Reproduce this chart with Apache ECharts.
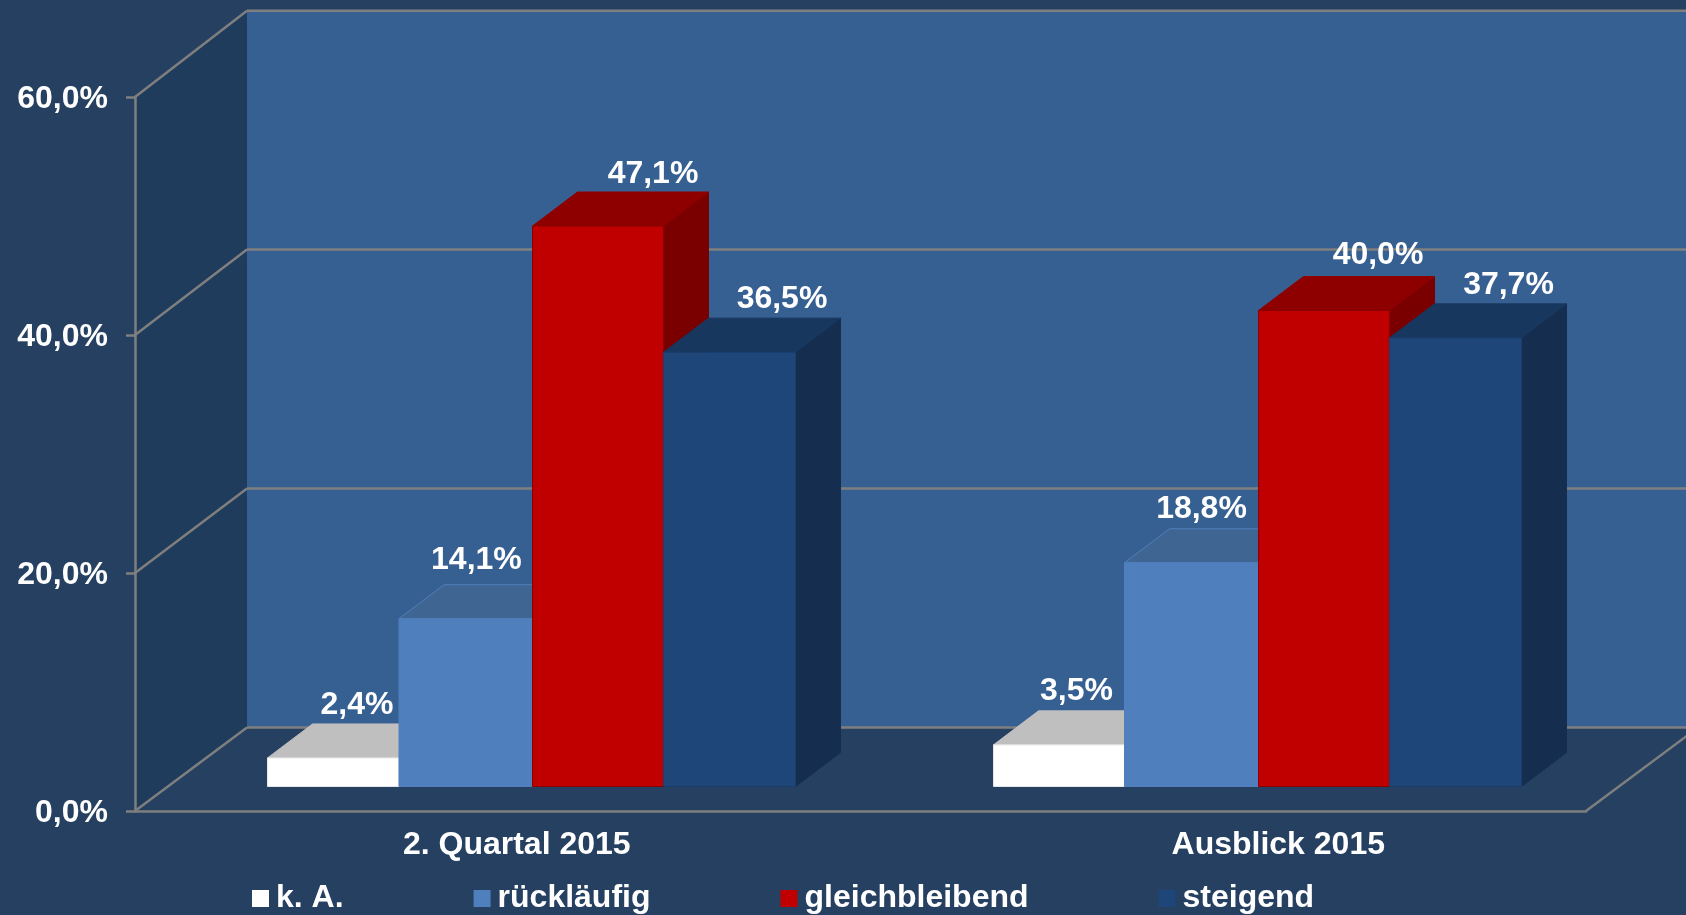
<!DOCTYPE html>
<html>
<head>
<meta charset="utf-8">
<style>html,body{margin:0;padding:0;background:#254061}#c{width:1686px;height:915px}</style>
<script src="https://cdn.jsdelivr.net/npm/echarts@6/dist/echarts.min.js"></script>
</head>
<body>
<div id="c"></div>
<script>
const categories = ['2. Quartal 2015', 'Ausblick 2015'];
const seriesNames = ['k. A.', 'rückläufig', 'gleichbleibend', 'steigend'];
const kaValues = [2.4, 3.5];
const ruecklaeufigValues = [14.1, 18.8];
const gleichbleibendValues = [47.1, 40.0];
const steigendValues = [36.5, 37.7];
const yTicks = [0, 20, 40, 60];

// layout and style (not data)
const FONT = 'bold 32px "Liberation Sans", Arial, sans-serif';
const WALL_DX = 112, WALL_DY = 83.5, WALL_SCALE = 1.004;
const BAR_DX = 45, BAR_DY = 34, BAR_W = 132;
const BAR_OFF_X = 33.25, BAR_OFF_Y = 24.5, GROUP_W = 4 * BAR_W;
const BAR_EDGES = [[0, 131.5, 265, 396, 528], [0.5, 131.5, 265.5, 396.5, 528.5]];
const GROUP_LEFT = -230.25;
const LINE = '#7f7f7f', LINE_W = 2.5;
const palette = [
  {front:'#ffffff', top:'#bfbfbf', side:'#bfbfbf', edge:'#e6e6e6'},
  {front:'#4f7fbc', top:'#3f6593', side:'#3a5f8c', edge:'#4f7fbc'},
  {front:'#c00000', top:'#8e0000', side:'#7a0000', edge:'#8a0000'},
  {front:'#1e4679', top:'#18375e', side:'#152e50', edge:'#1a3e6c'}
];
const labelShift = [[24, 18], [11.4, 11], [56, 55.5], [53, 54]];
const labelRise = [[52.5, 53.5], [58.5, 53.5], [51.5, 55], [52.5, 52.5]];
const categoryLabelPad = [38, 110];

const fmt = v => v.toFixed(1).replace('.', ',') + '%';

function poly(points, fill, stroke) {
  return {type:'polygon', shape:{points}, style:{fill, stroke: stroke || fill, lineWidth:1}};
}

function barRender(si) {
  return function (params, api) {
    const idx = api.value(0), val = api.value(1);
    const c = palette[si];
    const center = api.coord([idx, 0])[0];
    const base = api.coord([idx, 0])[1] - BAR_OFF_Y;
    const topY = base - (api.coord([idx, 0])[1] - api.coord([idx, val])[1]);
    const x0 = center + GROUP_LEFT + BAR_EDGES[idx][si];
    const x1 = center + GROUP_LEFT + BAR_EDGES[idx][si + 1];
    const labelX = center + BAR_OFF_X - GROUP_W / 2 + si * BAR_W + BAR_W / 2 + labelShift[si][idx];
    return {type:'group', children:[
      poly([[x1, base],[x1 + BAR_DX, base - BAR_DY],[x1 + BAR_DX, topY - BAR_DY],[x1, topY]], c.side),
      poly([[x0, topY],[x1, topY],[x1 + BAR_DX, topY - BAR_DY],[x0 + BAR_DX, topY - BAR_DY]], c.top, si === 1 ? '#4f7fbc' : c.top),
      poly([[x0, base],[x1, base],[x1, topY],[x0, topY]], c.front, c.edge),
      {type:'text', z2:50, x:labelX, y:topY - labelRise[si][idx],
        style:{text:fmt(val), fill:'#fff', font:FONT, textAlign:'center', textVerticalAlign:'middle'}}
    ]};
  };
}

function frameRender(params, api) {
  const v = api.value(0);
  const x0 = api.coord([0, 0])[0] - api.size([1, 0])[0] / 2;
  const x1 = x0 + api.size([1, 0])[0] * categories.length;
  const y0 = api.coord([0, 0])[1];
  const yTop = api.coord([0, yTicks[yTicks.length - 1]])[1];
  const y = api.coord([0, v])[1];
  const back = py => y0 - WALL_DY - (y0 - py) * WALL_SCALE;
  const bx = x0 + WALL_DX;
  const children = [];
  const ls = {stroke:LINE, lineWidth:LINE_W};
  if (params.dataIndex === 0) {
    children.push(poly([[bx, back(y0)],[x1 + WALL_DX, back(y0)],[x1 + WALL_DX, back(yTop)],[bx, back(yTop)]], '#376092', 'transparent'));
    children.push(poly([[x0, y0],[bx, back(y0)],[bx, back(yTop)],[x0, yTop]], '#203c5c', 'transparent'));
    children.push({type:'line', shape:{x1:x1, y1:y0, x2:x1 + WALL_DX, y2:back(y0)}, style:ls});
  }
  children.push({type:'line', shape:{x1:x0, y1:y, x2:bx, y2:back(y)}, style:ls});
  children.push({type:'line', shape:{x1:bx, y1:back(y), x2:x1 + WALL_DX, y2:back(y)}, style:ls});
  return {type:'group', children};
}

const valueSets = [kaValues, ruecklaeufigValues, gleichbleibendValues, steigendValues];
const legendColors = ['#ffffff', '#4f7fbc', '#c00000', '#1e4679'];

const chart = echarts.init(document.getElementById('c'), null, {renderer:'canvas'});
chart.setOption({
  animation:false,
  backgroundColor:'#254061',
  textStyle:{fontFamily:'"Liberation Sans", Arial, sans-serif'},
  grid:{left:135, top:97, width:1451, height:714, containLabel:false},
  legend:{
    left:252, top:882.5, padding:0, itemWidth:17, itemHeight:17, itemGap:130,
    selectedMode:false,
    data:seriesNames.map(name => ({name, icon:'rect'})),
    textStyle:{color:'#fff', fontWeight:'bold', fontSize:32, padding:[0,0,0,2], fontFamily:'"Liberation Sans", Arial, sans-serif'}
  },
  xAxis:{
    type:'category', z:5,
    data:categories.map((value, i) => ({value, textStyle:{padding:[0,0,0,categoryLabelPad[i]]}})),
    axisLine:{show:true, lineStyle:{color:LINE, width:LINE_W}},
    axisTick:{show:false},
    axisLabel:{color:'#fff', fontWeight:'bold', fontSize:32, margin:18, interval:0, fontFamily:'"Liberation Sans", Arial, sans-serif'}
  },
  yAxis:{
    type:'value', min:0, max:60, interval:20, z:5,
    splitLine:{show:false},
    axisLine:{show:true, lineStyle:{color:LINE, width:LINE_W}},
    axisTick:{show:true, length:9, lineStyle:{color:LINE, width:LINE_W}},
    axisLabel:{color:'#fff', fontWeight:'bold', fontSize:32, margin:27, verticalAlign:'top', lineHeight:5, formatter:fmt, fontFamily:'"Liberation Sans", Arial, sans-serif'}
  },
  series:[
    {type:'custom', name:'frame', silent:true, z:1, renderItem:frameRender, data:yTicks.map(v => [v]), encode:{y:0}, clip:false},
    ...seriesNames.map((name, si) => ({
      type:'custom', name, z:2, clip:false,
      itemStyle:{color:legendColors[si]},
      renderItem:barRender(si),
      encode:{x:0, y:1},
      data:valueSets[si].map((v, i) => [i, v])
    }))
  ]
});
</script>
</body>
</html>
